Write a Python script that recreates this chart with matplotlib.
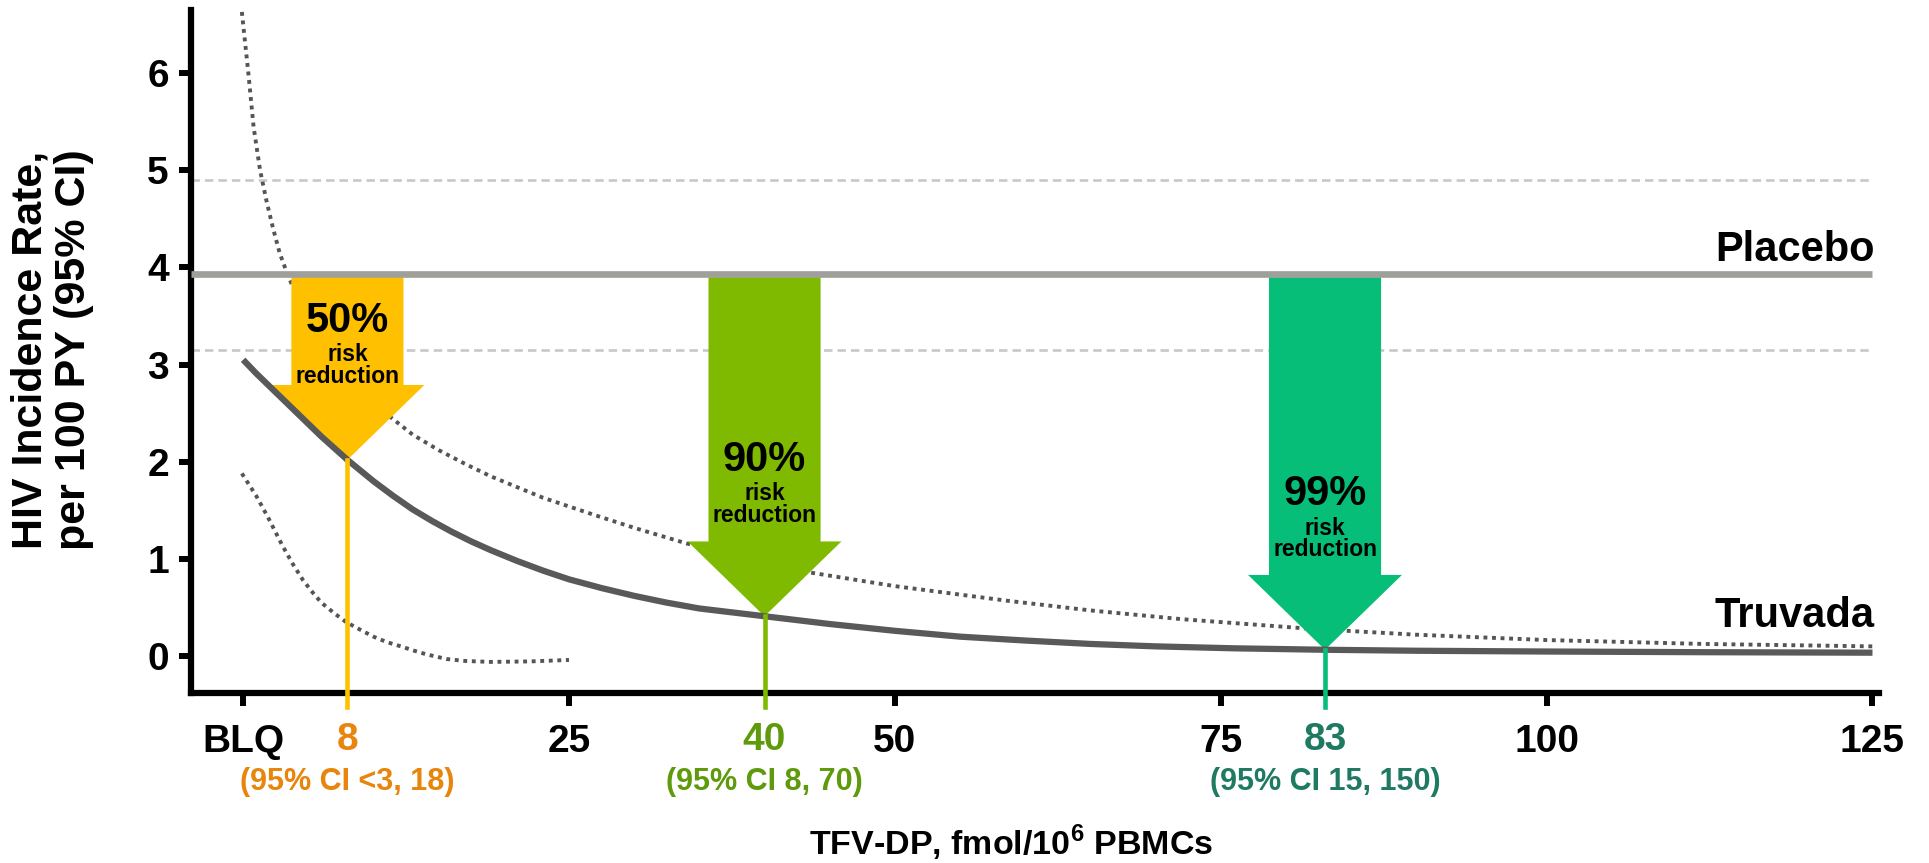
import numpy as np
import matplotlib.pyplot as plt
from matplotlib.patches import Polygon

plt.rcParams['font.family'] = ['Liberation Sans', 'DejaVu Sans']
plt.rcParams['font.weight'] = 'bold'
plt.rcParams['mathtext.fontset'] = 'custom'
plt.rcParams['mathtext.bf'] = 'Liberation Sans:bold'
plt.rcParams['mathtext.rm'] = 'Liberation Sans:bold'

# incidence per 100 PY vs TFV-DP (fmol/10^6 PBMCs), BLQ plotted at 0
placebo_rate = 3.93
placebo_ci = [3.15, 4.90]

truvada_x = [0, 1, 2, 3, 4, 5, 6, 7, 8, 9, 10, 11.5, 13, 14.5, 16, 17.5, 19, 21,
             23, 25, 27.5, 30, 32.5, 35, 37.5, 40, 45, 50, 55, 60, 65, 70, 76,
             83, 90, 100, 112, 125]
truvada_y = [3.05, 2.91, 2.78, 2.65, 2.52, 2.39, 2.26, 2.14, 2.02, 1.91, 1.80,
             1.65, 1.51, 1.39, 1.28, 1.18, 1.09, 0.98, 0.88, 0.79, 0.70, 0.62,
             0.55, 0.49, 0.45, 0.41, 0.33, 0.26, 0.20, 0.16, 0.125, 0.10, 0.08,
             0.065, 0.055, 0.047, 0.04, 0.035]

upper_x = [-0.1, 0.4, 0.8, 1.3, 1.8, 2.3, 2.8, 3.4, 4.2, 5, 6, 7, 8, 9, 10, 11.4,
           13, 15, 17, 19, 21, 23, 25, 27, 30, 34, 38, 43.5, 50, 58.6, 65, 72,
           82, 90, 100, 112, 125]
upper_y = [6.63, 6.0, 5.45, 5.0, 4.68, 4.4, 4.15, 3.93, 3.68, 3.45, 3.21, 3.0,
           2.84, 2.7, 2.58, 2.45, 2.28, 2.12, 1.98, 1.85, 1.74, 1.63, 1.54, 1.45,
           1.32, 1.16, 1.03, 0.86, 0.72, 0.57, 0.47, 0.38, 0.28, 0.22, 0.165,
           0.125, 0.10]

lower_x = [-0.1, 1, 1.9, 3, 3.8, 4.6, 5.3, 6, 7, 7.9, 9, 10, 11, 12.1, 13, 14,
           15.6, 17, 19, 22, 25]
lower_y = [1.88, 1.65, 1.43, 1.14, 0.95, 0.78, 0.66, 0.55, 0.44, 0.35, 0.27,
           0.20, 0.145, 0.10, 0.06, 0.02, -0.03, -0.05, -0.06, -0.055, -0.04]

# concentrations for 50/90/99% risk reduction
ec_x = [8, 40, 83]
ec_pct = ['50%', '90%', '99%']
ec_ci = ['(95% CI <3, 18)', '(95% CI 8, 70)', '(95% CI 15, 150)']
ec_fill = ['#FFC000', '#7FBA00', '#06BE78']
ec_text = ['#E8850C', '#5E9A0C', '#1F7A62']

tick_pos = [0, 25, 50, 75, 100, 125]
tick_lab = ['BLQ', '25', '50', '75', '100', '125']

fig = plt.figure(figsize=(19.29, 8.63), dpi=100)
ax = fig.add_axes([191 / 1929, 1 - 693 / 863, 1688 / 1929, 683 / 863])

ax.set_xlim(-4.0, 125.5)
ax.set_ylim(-0.38, 6.65)

for v in placebo_ci:
    ax.plot([-4, 125], [v, v], color='#C8C8C8', lw=1.9, ls=(0, (3.2, 1.9)), zorder=1)

ax.plot(upper_x, upper_y, color='#555555', lw=2.8, ls=(0, (1, 1.2)), zorder=2)
ax.plot(lower_x, lower_y, color='#555555', lw=2.8, ls=(0, (1, 1.2)), zorder=2)

ax.plot([-4, 125], [placebo_rate, placebo_rate], color='#A0A09A', lw=4.8,
        solid_capstyle='butt', zorder=4)

shaft, head, head_h = 4.3, 5.9, 0.77
pct_off = [1.43, 1.61, 1.60]
for i, xc in enumerate(ec_x):
    tip = truvada_y[truvada_x.index(xc)]
    top = placebo_rate - 0.03
    ht = tip + head_h
    pts = [(xc - shaft, top), (xc + shaft, top), (xc + shaft, ht), (xc + head, ht),
           (xc, tip), (xc - head, ht), (xc - shaft, ht)]
    ax.add_patch(Polygon(pts, closed=True, facecolor=ec_fill[i], edgecolor='none', zorder=3))
    ax.plot([xc, xc], [tip, -0.52], color=ec_fill[i], lw=3.3, clip_on=False, zorder=6)
    yp = tip + pct_off[i]
    ax.text(xc, yp, ec_pct[i], ha='center', va='center', fontsize=30, zorder=7)
    ax.text(xc, yp - 0.35, 'risk', ha='center', va='center', fontsize=16.5, zorder=7)
    ax.text(xc, yp - 0.57, 'reduction', ha='center', va='center', fontsize=16.5, zorder=7)
    ax.text(xc, -0.0688, str(xc), transform=ax.get_xaxis_transform(), ha='center',
            va='center', fontsize=28, color=ec_text[i])
    ax.text(xc, -0.130, ec_ci[i], transform=ax.get_xaxis_transform(), ha='center',
            va='center', fontsize=22, color=ec_text[i])

ax.plot(truvada_x, truvada_y, color='#595959', lw=4.5, solid_capstyle='butt', zorder=5)

ax.text(125.2, 4.07, 'Placebo', ha='right', va='baseline', fontsize=30)
ax.text(125.2, 0.30, 'Truvada', ha='right', va='baseline', fontsize=30)

ax.spines['top'].set_visible(False)
ax.spines['right'].set_visible(False)
for s in ['left', 'bottom']:
    ax.spines[s].set_linewidth(4.5)
    ax.spines[s].set_color('black')

ax.set_xticks(tick_pos)
ax.set_xticklabels(tick_lab)
ax.set_yticks(range(0, 7))
ax.tick_params(axis='both', direction='out', length=9, width=4.3, labelsize=28)
ax.tick_params(axis='x', pad=13)
ax.tick_params(axis='y', pad=7)

fig.text(52 / 1929, 1 - 350 / 863, 'HIV Incidence Rate,\nper 100 PY (95% CI)',
         rotation=90, ha='center', va='center', fontsize=31, linespacing=1.12)
fig.text(1011 / 1929, 1 - 843 / 863, r'TFV-DP, fmol/10$^{\mathbf{6}}$ PBMCs',
         ha='center', va='center', fontsize=24.5)

fig.savefig('out.png', dpi=100)
